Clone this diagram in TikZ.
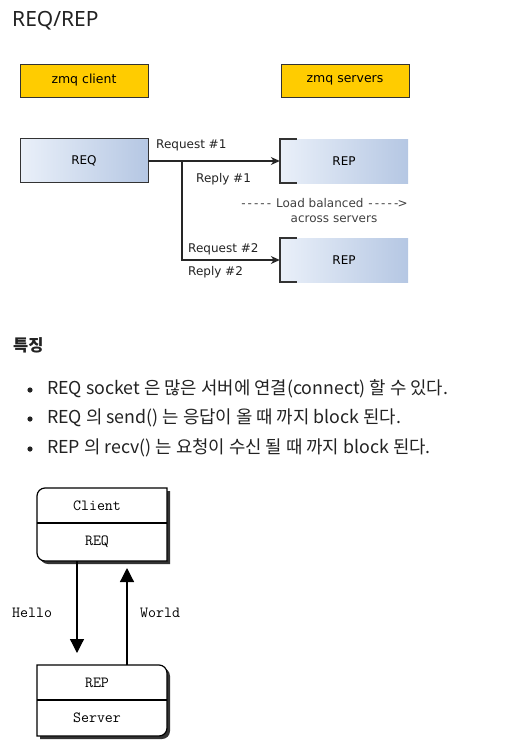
\documentclass[tikz,border=0pt]{standalone}
\usepackage{fontspec}
\setmainfont{Noto Sans}
\newfontfamily\dv{DejaVu Sans}
\newfontfamily\kr{Noto Sans CJK KR}
\usetikzlibrary{arrows.meta}
\definecolor{gold}{HTML}{FFCC00}
\definecolor{bl}{HTML}{EAF0F9}
\definecolor{br}{HTML}{B5C7E3}
\definecolor{txt}{HTML}{222222}
\newcommand{\dsh}{\makebox[6.4pt]{-}}
\begin{document}
\begin{tikzpicture}[x=1pt,y=-1pt,
  lbl/.style={font=\dv\fontsize{12}{14}\selectfont, text=txt, inner sep=0},
  goldbox/.style={draw=black!80, fill=gold, line width=0.8pt, minimum width=128pt, minimum height=33pt, inner sep=0, font=\dv\fontsize{12.5}{14}\selectfont},
  gradbox/.style={left color=bl, right color=br, minimum width=128pt, minimum height=44pt, inner sep=0, font=\dv\fontsize{12}{14}\selectfont},
  conn/.style={line width=1.2pt, draw=black!85},
  bracketline/.style={line width=1.8pt, draw=black!80},
  ko/.style={font=\kr\fontsize{17.8}{20}\selectfont, text=txt, inner sep=0, anchor=west},
  mt/.style={font=\ttfamily\fontsize{15.5}{17}\selectfont, inner sep=0},
  bigarrow/.style={line width=1.2pt, -{Triangle[length=14pt,width=14pt]}},
]
\useasboundingbox (0,0) rectangle (531,752);
% title
\node[anchor=west, inner sep=0, font=\fontsize{21}{24}\selectfont, text=txt] (title) at (12,21) {REQ/REP};
% gold boxes
\node[goldbox] (zc) at (84,80.5) {zmq client};
\node[goldbox] (zs) at (345,80.5) {zmq servers};
% REQ and REPs
\node[gradbox, draw=black!80, line width=0.8pt] (req) at (84,160.5) {REQ};
\node[gradbox] (rep1) at (344,161) {REP};
\node[gradbox] (rep2) at (344,260) {REP};
\draw[bracketline] ([xshift=17pt]rep1.north west) -- (rep1.north west) -- (rep1.south west) -- ([xshift=17pt]rep1.south west);
\draw[bracketline] ([xshift=17pt]rep2.north west) -- (rep2.north west) -- (rep2.south west) -- ([xshift=17pt]rep2.south west);
\coordinate (j) at (182,161);
\draw[conn,-{Stealth[length=9pt,width=8pt]}] (req.east |- j) -- (rep1.west |- j);
\draw[conn,-{Stealth[length=9pt,width=8pt]}] (j) -- (182,260) -- (rep2.west);
\node[lbl, anchor=west] (rq1) at (156,145) {Request \#1};
\node[lbl, anchor=west] (rp1) at (196,179) {Reply \#1};
\node[lbl, anchor=west] (rq2) at (188,249) {Request \#2};
\node[lbl, anchor=west] (rp2) at (188,272) {Reply \#2};
\node[lbl, text=black!75] (lb1) at (323,203) {\dsh\dsh\dsh\dsh\dsh{} Load balanced \dsh\dsh\dsh\dsh\dsh\makebox[6.4pt]{>}};
\node[lbl, text=black!75] (lb2) at (334,219) {across servers};
% Korean section
\node[inner sep=0, anchor=west, font=\kr\bfseries\fontsize{16.5}{20}\selectfont, text=txt] (h) at (13,345) {특징};
\fill[txt] (30,390) circle (2.6pt);
\fill[txt] (30,419) circle (2.6pt);
\fill[txt] (30,449) circle (2.6pt);
\node[ko] (b1) at (47,389) {REQ socket 은 많은 서버에 연결(connect) 할 수 있다.};
\node[ko] (b2) at (47,418) {REQ 의 send() 는 응답이 올 때 까지 block 된다.};
\node[ko] (b3) at (47,448) {REP 의 recv() 는 요청이 수신 될 때 까지 block 된다.};
% bottom diagram
% client box shadow
\fill[black!80] (105,491) -- (170,491) -- (170,564) [rounded corners=8pt] -- (40,564) -- (40,491) [sharp corners] -- (105,491) -- cycle;
\draw[line width=1.2pt, fill=white] (102,488) -- (167,488) -- (167,561) [rounded corners=8pt] -- (37,561) -- (37,488) [sharp corners] -- (102,488) -- cycle;
\draw[line width=1.2pt] (37,523) -- (167,523);
\node[mt] (cl) at (97,506) {Client};
\node[mt] (creq) at (97,542) {REQ};
% server box shadow
\fill[black!80] (105,739) -- (40,739) -- (40,668) [rounded corners=8pt] -- (170,668) -- (170,739) [sharp corners] -- (105,739) -- cycle;
\draw[line width=1.2pt, fill=white] (102,736) -- (37,736) -- (37,665) [rounded corners=8pt] -- (167,665) -- (167,736) [sharp corners] -- (102,736) -- cycle;
\draw[line width=1.2pt] (37,700) -- (167,700);
\node[mt] (srep) at (97,683) {REP};
\node[mt] (sv) at (97,718) {Server};
\coordinate (c1) at (77,561);
\coordinate (c2) at (77,653);
\coordinate (c3) at (127,665);
\coordinate (c4) at (127,568);
\draw[bigarrow] (c1) -- (c2);
\draw[bigarrow] (c3) -- (c4);
\node[mt, anchor=west] (hello) at (12,613) {Hello};
\node[mt, anchor=west] (world) at (140,613) {World};
\end{tikzpicture}
\end{document}
